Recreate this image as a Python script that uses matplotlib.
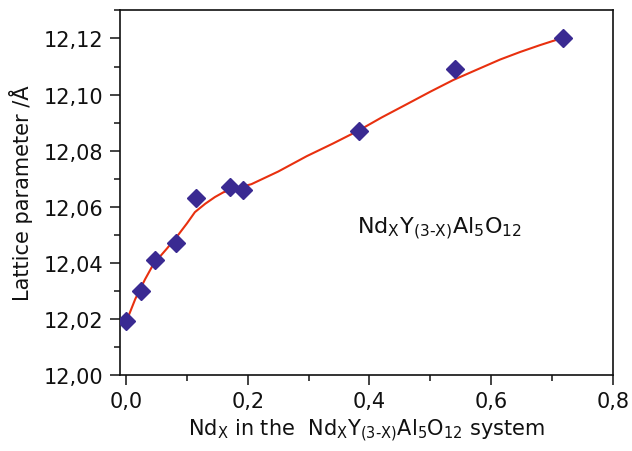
import numpy as np
import matplotlib; matplotlib.use("Agg")
import matplotlib.pyplot as plt
from matplotlib.ticker import MultipleLocator, FuncFormatter

INK = "#111111"
MARK = "#3a2a92"
FIT = "#e8300f"

# measured lattice parameters
nd_x = [0.0, 0.024, 0.048, 0.082, 0.115, 0.170, 0.192, 0.383, 0.540, 0.719]
lattice = [12.019, 12.030, 12.041, 12.047, 12.063, 12.067, 12.066, 12.087, 12.109, 12.120]

# smoothed trend line
fit_x = [0.0, 0.004, 0.015, 0.031, 0.045, 0.067, 0.086, 0.100, 0.113, 0.130, 0.146,
         0.160, 0.180, 0.206, 0.250, 0.297, 0.340, 0.381, 0.420, 0.461, 0.500, 0.538,
         0.578, 0.615, 0.648, 0.680, 0.700, 0.719]
fit_y = [12.019, 12.021, 12.027, 12.034, 12.0395, 12.045, 12.050, 12.054, 12.058, 12.061,
         12.0634, 12.0651, 12.0665, 12.068, 12.0725, 12.078, 12.0825, 12.087, 12.0918,
         12.0965, 12.101, 12.1052, 12.109, 12.1125, 12.1152, 12.1176, 12.119, 12.1203]

plt.rcParams.update({"font.family": "DejaVu Sans", "mathtext.default": "regular",
                     "text.color": INK, "axes.edgecolor": INK,
                     "xtick.color": INK, "ytick.color": INK, "axes.labelcolor": INK})

fig = plt.figure(figsize=(6.32, 4.52), dpi=100)
ax = fig.add_axes([0.19, 0.169, 0.7795, 0.8056])

ax.plot(fit_x, fit_y, color=FIT, lw=1.5, zorder=2, solid_joinstyle="round")
ax.plot(nd_x, lattice, ls="none", marker="D", ms=9.5, color=MARK, mec=MARK, zorder=3)

ax.set_xlim(-0.01, 0.8)
ax.set_ylim(12.0, 12.13)
ax.xaxis.set_major_locator(MultipleLocator(0.2))
ax.xaxis.set_minor_locator(MultipleLocator(0.1))
ax.yaxis.set_major_locator(MultipleLocator(0.02))
ax.yaxis.set_minor_locator(MultipleLocator(0.01))
ax.xaxis.set_major_formatter(FuncFormatter(lambda v, p: f"{v:.1f}".replace(".", ",")))
ax.yaxis.set_major_formatter(FuncFormatter(lambda v, p: f"{v:.2f}".replace(".", ",")))
ax.tick_params(which="both", direction="out", width=1.1, labelsize=15, top=False, right=False)
ax.tick_params(which="major", length=7, pad=5)
ax.tick_params(which="minor", length=4)
for s in ax.spines.values():
    s.set_linewidth(1.2)

ax.set_xlabel(r"Nd$_X$ in the  Nd$_X$Y$_{(3\text{-}X)}$Al$_5$O$_{12}$ system", fontsize=15, labelpad=4)
ax.set_ylabel("Lattice parameter /Å", fontsize=15, labelpad=8)
ax.text(0.515, 12.0525, r"Nd$_X$Y$_{(3\text{-}X)}$Al$_5$O$_{12}$", fontsize=16, ha="center", va="center")

fig.savefig("out.png", dpi=100)
